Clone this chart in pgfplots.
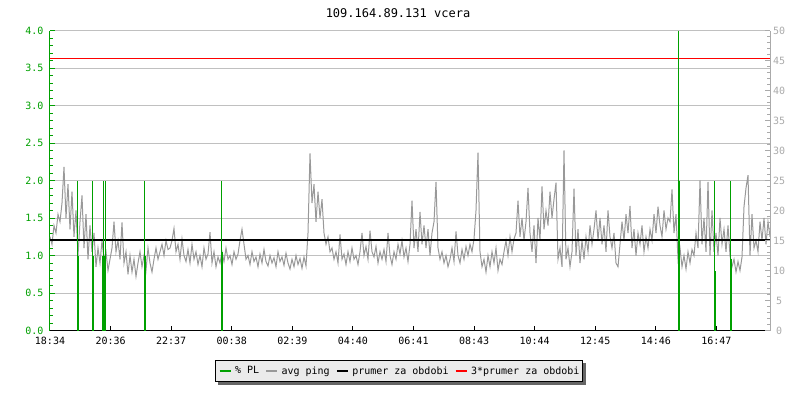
\documentclass[border=0pt]{standalone}
\usepackage{pgfplots}
\pgfplotsset{compat=1.18}
\usepackage{pgfplotstable}
\usepackage{fontspec}
\setmainfont{DejaVu Sans Mono}
\usetikzlibrary{backgrounds}
\definecolor{plgreen}{RGB}{0,160,0}
\definecolor{pinggray}{RGB}{153,153,153}
\definecolor{gridgray}{RGB}{192,192,192}
\definecolor{rightgray}{RGB}{170,170,170}
\definecolor{legfill}{RGB}{235,235,235}
\pgfplotstableread[row sep=\\]{
x y\\
50 1.25\\ 52 1.15\\ 54 1.40\\ 56 1.30\\ 58 1.55\\ 60 1.45\\ 62 1.70\\ 64 2.18\\ 66 1.50\\ 68 1.95\\
70 1.35\\ 72 1.85\\ 74 1.25\\ 76 1.60\\ 78 1.00\\ 80 1.45\\ 82 1.80\\ 84 1.10\\ 86 1.55\\ 88 0.95\\
90 1.40\\ 92 1.05\\ 94 1.30\\ 96 0.85\\ 98 1.10\\ 100 0.90\\ 102 1.20\\ 104 0.95\\ 106 1.05\\ 108 0.80\\
110 0.95\\ 112 1.10\\ 114 1.45\\ 116 1.05\\ 118 1.20\\ 120 0.95\\ 122 1.44\\ 124 0.90\\ 126 1.05\\ 128 0.75\\
130 1.00\\ 132 0.78\\ 134 0.95\\ 136 0.72\\ 138 0.90\\ 140 1.05\\ 142 0.85\\ 144 1.00\\ 146 0.80\\ 148 1.10\\
150 0.90\\ 152 0.78\\ 154 0.95\\ 156 1.10\\ 158 0.95\\ 160 1.05\\ 162 1.15\\ 164 1.00\\ 166 1.20\\ 168 1.08\\
170 1.10\\ 172 1.20\\ 174 1.36\\ 176 1.05\\ 178 1.15\\ 180 0.95\\ 182 1.22\\ 184 1.00\\ 186 0.92\\ 188 1.08\\
190 0.90\\ 192 1.15\\ 194 0.95\\ 196 1.05\\ 198 0.88\\ 200 1.00\\ 202 0.85\\ 204 1.10\\ 206 0.95\\ 208 1.02\\
210 1.31\\ 212 0.90\\ 214 1.05\\ 216 0.85\\ 218 0.98\\ 220 0.90\\ 222 1.05\\ 224 0.92\\ 226 1.10\\ 228 0.95\\
230 1.00\\ 232 0.88\\ 234 1.05\\ 236 0.95\\ 238 1.02\\ 240 1.20\\ 242 1.35\\ 244 1.15\\ 246 0.95\\ 248 1.00\\
250 0.88\\ 252 1.05\\ 254 0.92\\ 256 0.98\\ 258 0.85\\ 260 1.02\\ 262 0.90\\ 264 1.08\\ 266 0.92\\ 268 0.86\\
270 1.00\\ 272 0.90\\ 274 0.97\\ 276 0.85\\ 278 1.05\\ 280 0.92\\ 282 0.98\\ 284 0.87\\ 286 1.03\\ 288 0.90\\
290 0.82\\ 292 0.95\\ 294 0.85\\ 296 1.00\\ 298 0.88\\ 300 0.96\\ 302 0.83\\ 304 0.98\\ 306 0.86\\ 308 1.30\\
310 2.36\\ 312 1.70\\ 314 1.95\\ 316 1.45\\ 318 1.85\\ 320 1.50\\ 322 1.75\\ 324 1.30\\ 326 1.15\\ 328 1.25\\
330 1.05\\ 332 1.10\\ 334 0.95\\ 336 1.05\\ 338 0.90\\ 340 1.28\\ 342 0.95\\ 344 1.02\\ 346 0.88\\ 348 1.05\\
350 0.92\\ 352 1.10\\ 354 0.95\\ 356 1.00\\ 358 0.88\\ 360 1.05\\ 362 1.30\\ 364 1.00\\ 366 1.12\\ 368 0.95\\
370 1.33\\ 372 1.05\\ 374 0.98\\ 376 1.12\\ 378 0.90\\ 380 1.05\\ 382 0.95\\ 384 1.08\\ 386 0.92\\ 388 1.30\\
390 1.00\\ 392 0.88\\ 394 1.05\\ 396 0.95\\ 398 1.15\\ 400 1.02\\ 402 1.20\\ 404 0.98\\ 406 1.10\\ 408 0.92\\
410 1.15\\ 412 1.73\\ 414 1.10\\ 416 1.35\\ 418 1.05\\ 420 1.58\\ 422 1.15\\ 424 1.40\\ 426 1.10\\ 428 1.35\\
430 1.00\\ 432 1.30\\ 434 1.45\\ 436 1.98\\ 438 1.10\\ 440 0.95\\ 442 1.05\\ 444 0.90\\ 446 1.00\\ 448 0.85\\
450 0.95\\ 452 1.10\\ 454 0.92\\ 456 1.32\\ 458 1.00\\ 460 0.90\\ 462 1.08\\ 464 0.95\\ 466 1.12\\ 468 1.00\\
470 1.15\\ 472 1.05\\ 474 1.22\\ 476 1.60\\ 478 2.37\\ 480 1.05\\ 482 0.85\\ 484 0.95\\ 486 0.78\\ 488 1.00\\
490 0.85\\ 492 1.05\\ 494 0.90\\ 496 1.10\\ 498 0.80\\ 500 0.95\\ 502 0.88\\ 504 1.05\\ 506 1.20\\ 508 1.00\\
510 1.25\\ 512 1.05\\ 514 1.22\\ 516 1.30\\ 518 1.73\\ 520 1.25\\ 522 1.50\\ 524 1.20\\ 526 1.45\\ 528 1.90\\
530 1.30\\ 532 1.05\\ 534 1.40\\ 536 0.90\\ 538 1.50\\ 540 1.20\\ 542 1.92\\ 544 1.35\\ 546 1.60\\ 548 1.40\\
550 1.85\\ 552 1.50\\ 554 1.75\\ 556 1.97\\ 558 0.95\\ 560 1.10\\ 562 0.85\\ 564 2.40\\ 566 0.95\\ 568 1.10\\
570 0.85\\ 572 1.05\\ 574 1.89\\ 576 1.00\\ 578 1.35\\ 580 0.90\\ 582 1.20\\ 584 0.95\\ 586 1.25\\ 588 1.05\\
590 1.40\\ 592 1.15\\ 594 1.35\\ 596 1.60\\ 598 1.20\\ 600 1.50\\ 602 1.15\\ 604 1.40\\ 606 1.05\\ 608 1.60\\
610 1.25\\ 612 1.10\\ 614 1.30\\ 616 0.90\\ 618 0.85\\ 620 1.15\\ 622 1.45\\ 624 1.20\\ 626 1.55\\ 628 1.30\\
630 1.66\\ 632 1.10\\ 634 1.35\\ 636 1.00\\ 638 1.30\\ 640 1.15\\ 642 1.40\\ 644 1.05\\ 646 1.25\\ 648 1.10\\
650 1.35\\ 652 1.20\\ 654 1.55\\ 656 1.30\\ 658 1.65\\ 660 1.40\\ 662 1.25\\ 664 1.60\\ 666 1.35\\ 668 1.50\\
670 1.45\\ 672 1.88\\ 674 1.30\\ 676 1.55\\ 678 0.95\\ 680 1.10\\ 682 0.85\\ 684 1.00\\ 686 0.82\\ 688 1.05\\
690 0.90\\ 692 1.08\\ 694 1.00\\ 696 1.30\\ 698 1.10\\ 700 2.00\\ 702 1.15\\ 704 1.50\\ 706 1.05\\ 708 1.98\\
710 1.00\\ 712 1.60\\ 714 1.05\\ 716 1.30\\ 718 1.00\\ 720 1.50\\ 722 1.15\\ 724 1.35\\ 726 1.05\\ 728 1.40\\
730 1.00\\ 732 0.85\\ 734 0.95\\ 736 0.78\\ 738 0.92\\ 740 0.80\\ 742 0.98\\ 744 1.65\\ 746 1.90\\ 748 2.07\\
750 1.00\\ 752 1.55\\ 754 1.10\\ 756 1.20\\ 758 1.05\\ 760 1.45\\ 762 1.20\\ 764 1.50\\ 766 1.15\\ 768 1.45\\
770 1.25\\
}\pingdata
\begin{document}
\begin{tikzpicture}
\path[use as bounding box] (-50pt,-69.5pt) rectangle (750pt,330.5pt);
\begin{axis}[
  scale only axis, width=720pt, height=300pt,
  at={(0pt,0pt)}, anchor=south west,
  xmin=50, xmax=770, ymin=0, ymax=4,
  axis x line*=bottom, axis y line*=left,
  x axis line style={black,-,line width=1pt},
  y axis line style={plgreen,-,line width=1pt},
  tick align=inside,
  major tick length=5pt, minor tick length=3pt,
  xtick={50,110.58,171.16,231.74,292.32,352.90,413.48,474.06,534.64,595.22,655.80,716.38},
  xticklabels={18:34,20:36,22:37,00:38,02:39,04:40,06:41,08:43,10:44,12:45,14:46,16:47},
  xtick style={black,line width=1pt},
  ytick={0,0.5,...,4},
  minor y tick num=4,
  ytick style={plgreen,line width=1pt},
  minor y tick style={plgreen,line width=1pt},
  ymajorgrids, grid style={gridgray,line width=1pt},
  /pgf/number format/assume math mode=true,
  tick label style={font=\fontsize{10}{12}\selectfont},
  yticklabel style={plgreen, xshift=-3pt, /pgf/number format/.cd, fixed, fixed zerofill, precision=1},
  xticklabel style={yshift=-3pt},
  legend columns=4,
  legend image code/.code={\draw[#1, line width=2pt] (0pt,0pt) -- (11pt,0pt);},
  legend style={name=leg, at={(0.4847,-0.135)}, anchor=center, draw=black, line width=1pt, fill=legfill,
    font=\fontsize{10}{12}\selectfont, inner xsep=3pt, inner ysep=6pt,
    nodes={inner xsep=0pt, inner ysep=0pt},
    /tikz/every odd column/.append style={column sep=3.5pt},
    /tikz/every even column/.append style={column sep=6pt}},
]
\addplot[pinggray, line width=1pt, forget plot] table[x=x, y=y] {\pingdata};
\addplot[black, line width=2pt, forget plot] coordinates {(50,1.21) (770,1.21)};
\addplot[red, line width=1.2pt, forget plot] coordinates {(50,3.627) (770,3.627)};
\addplot[ycomb, plgreen, line width=1.3pt, forget plot] coordinates {(77.5,2) (92.5,2) (103.5,2) (105.5,2) (144.5,2) (221.5,2) (678.5,4) (714.5,2) (730.5,2)};
\addplot[ycomb, plgreen, line width=2.2pt, forget plot] coordinates {(78,1.0) (93,1.0) (103,1.0) (105,1.0) (145,1.0) (222,1.05) (679,2.0) (715,0.8) (731,0.95)};
\addlegendimage{plgreen}\addlegendentry{\% PL}
\addlegendimage{pinggray}\addlegendentry{avg ping}
\addlegendimage{black}\addlegendentry{prumer za obdobi}
\addlegendimage{red}\addlegendentry{3*prumer za obdobi\hspace{6pt}}
\end{axis}
\begin{axis}[
  scale only axis, width=720pt, height=300pt,
  at={(0pt,0pt)}, anchor=south west,
  xmin=50, xmax=770, ymin=0, ymax=50,
  axis x line=none, axis y line*=right,
  y axis line style={rightgray,-,line width=1pt},
  tick align=inside,
  major tick length=5pt, minor tick length=3pt,
  ytick={0,5,...,50},
  minor y tick num=4,
  ytick style={rightgray,line width=1pt},
  minor y tick style={rightgray,line width=1pt},
  /pgf/number format/assume math mode=true,
  yticklabel style={rightgray, font=\fontsize{10}{12}\selectfont, anchor=center, xshift=9pt},
]
\end{axis}
\begin{scope}[on background layer]
\fill[black!60] ([xshift=3pt,yshift=-3pt]leg.south west) rectangle ([xshift=3pt,yshift=-3pt]leg.north east);
\end{scope}
\node[font=\fontsize{12}{14}\selectfont] at (348pt,317.5pt) {109.164.89.131 vcera};
\end{tikzpicture}
\end{document}
